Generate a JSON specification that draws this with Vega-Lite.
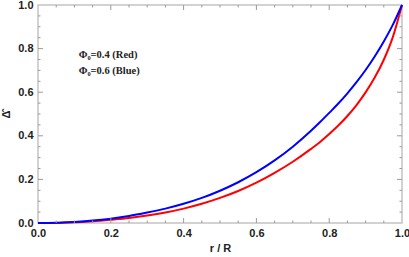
{
  "$schema": "https://vega.github.io/schema/vega-lite/v6.json",
  "width": 364,
  "height": 218,
  "autosize": "none",
  "padding": {"left": 38, "top": 5, "right": 7, "bottom": 34},
  "background": "white",
  "config": {
    "view": {"stroke": "#c4c4c4", "strokeWidth": 1.5},
    "axis": {
      "grid": false,
      "domain": false,
      "labelFont": "Liberation Sans",
      "labelFontWeight": "bold",
      "labelFontSize": 11,
      "labelColor": "#222222",
      "labelOverlap": false,
      "labelFlush": false,
      "titleFont": "Liberation Sans",
      "titleFontWeight": "bold",
      "titleFontSize": 11,
      "titleColor": "#222222"
    }
  },
  "datasets": {
    "curves": [
      {"r": 0.0, "delta": 0.0, "series": "red"},
      {"r": 0.05, "delta": 0.0005, "series": "red"},
      {"r": 0.1, "delta": 0.003, "series": "red"},
      {"r": 0.15, "delta": 0.008, "series": "red"},
      {"r": 0.2, "delta": 0.015, "series": "red"},
      {"r": 0.25, "delta": 0.023, "series": "red"},
      {"r": 0.3, "delta": 0.034, "series": "red"},
      {"r": 0.35, "delta": 0.048, "series": "red"},
      {"r": 0.4, "delta": 0.066, "series": "red"},
      {"r": 0.45, "delta": 0.088, "series": "red"},
      {"r": 0.5, "delta": 0.115, "series": "red"},
      {"r": 0.55, "delta": 0.147, "series": "red"},
      {"r": 0.6, "delta": 0.185, "series": "red"},
      {"r": 0.65, "delta": 0.23, "series": "red"},
      {"r": 0.7, "delta": 0.281, "series": "red"},
      {"r": 0.75, "delta": 0.34, "series": "red"},
      {"r": 0.775, "delta": 0.372, "series": "red"},
      {"r": 0.8, "delta": 0.408, "series": "red"},
      {"r": 0.825, "delta": 0.447, "series": "red"},
      {"r": 0.85, "delta": 0.491, "series": "red"},
      {"r": 0.875, "delta": 0.541, "series": "red"},
      {"r": 0.9, "delta": 0.599, "series": "red"},
      {"r": 0.925, "delta": 0.667, "series": "red"},
      {"r": 0.95, "delta": 0.749, "series": "red"},
      {"r": 0.975, "delta": 0.854, "series": "red"},
      {"r": 1.0, "delta": 1.0, "series": "red"},
      {"r": 0.0, "delta": 0.0, "series": "blue"},
      {"r": 0.05, "delta": 0.001, "series": "blue"},
      {"r": 0.1, "delta": 0.005, "series": "blue"},
      {"r": 0.15, "delta": 0.011, "series": "blue"},
      {"r": 0.2, "delta": 0.02, "series": "blue"},
      {"r": 0.25, "delta": 0.032, "series": "blue"},
      {"r": 0.3, "delta": 0.048, "series": "blue"},
      {"r": 0.35, "delta": 0.066, "series": "blue"},
      {"r": 0.4, "delta": 0.088, "series": "blue"},
      {"r": 0.45, "delta": 0.115, "series": "blue"},
      {"r": 0.5, "delta": 0.148, "series": "blue"},
      {"r": 0.55, "delta": 0.187, "series": "blue"},
      {"r": 0.6, "delta": 0.233, "series": "blue"},
      {"r": 0.65, "delta": 0.287, "series": "blue"},
      {"r": 0.7, "delta": 0.35, "series": "blue"},
      {"r": 0.75, "delta": 0.423, "series": "blue"},
      {"r": 0.775, "delta": 0.463, "series": "blue"},
      {"r": 0.8, "delta": 0.505, "series": "blue"},
      {"r": 0.825, "delta": 0.548, "series": "blue"},
      {"r": 0.85, "delta": 0.595, "series": "blue"},
      {"r": 0.875, "delta": 0.646, "series": "blue"},
      {"r": 0.9, "delta": 0.702, "series": "blue"},
      {"r": 0.925, "delta": 0.764, "series": "blue"},
      {"r": 0.95, "delta": 0.833, "series": "blue"},
      {"r": 0.975, "delta": 0.91, "series": "blue"},
      {"r": 1.0, "delta": 1.0, "series": "blue"}
    ],
    "notes": [
      {"r": 0.112, "delta": 0.771, "label": "Φ₀=0.4 (Red)"},
      {"r": 0.112, "delta": 0.697, "label": "Φ₀=0.6 (Blue)"}
    ],
    "major": [
      {"v": 0.2}, {"v": 0.4}, {"v": 0.6}, {"v": 0.8}
    ],
    "minor": [
      {"v": 0.05}, {"v": 0.1}, {"v": 0.15}, {"v": 0.25}, {"v": 0.3}, {"v": 0.35},
      {"v": 0.45}, {"v": 0.5}, {"v": 0.55}, {"v": 0.65}, {"v": 0.7}, {"v": 0.75},
      {"v": 0.85}, {"v": 0.9}, {"v": 0.95}
    ]
  },
  "layer": [
    {
      "data": {"name": "curves"},
      "mark": {"type": "line", "strokeWidth": 2, "interpolate": "monotone"},
      "encoding": {
        "x": {
          "field": "r", "type": "quantitative",
          "scale": {"domain": [0, 1], "nice": false, "zero": false},
          "axis": {
            "orient": "bottom",
            "title": "r / R",
            "titlePadding": 4,
            "values": [0, 0.2, 0.4, 0.6, 0.8, 1.0],
            "format": ".1f",
            "ticks": false,
            "labelPadding": 4
          }
        },
        "y": {
          "field": "delta", "type": "quantitative",
          "scale": {"domain": [0, 1], "nice": false, "zero": false},
          "axis": {
            "orient": "left",
            "title": "Δ̂",
            "titlePadding": 6,
            "values": [0, 0.2, 0.4, 0.6, 0.8, 1.0],
            "format": ".1f",
            "ticks": false,
            "labelPadding": 5
          }
        },
        "color": {
          "field": "series", "type": "nominal",
          "scale": {"domain": ["red", "blue"], "range": ["#ff0000", "#0000ff"]},
          "legend": null
        }
      }
    },
    {
      "data": {"name": "major"},
      "mark": {"type": "rule", "color": "#9a9a9a", "strokeWidth": 1},
      "encoding": {
        "x": {"field": "v", "type": "quantitative", "axis": null},
        "y": {"datum": 0, "type": "quantitative", "axis": null},
        "y2": {"datum": 0.023}
      }
    },
    {
      "data": {"name": "major"},
      "mark": {"type": "rule", "color": "#9a9a9a", "strokeWidth": 1},
      "encoding": {
        "x": {"field": "v", "type": "quantitative", "axis": null},
        "y": {"datum": 1, "type": "quantitative", "axis": null},
        "y2": {"datum": 0.977}
      }
    },
    {
      "data": {"name": "major"},
      "mark": {"type": "rule", "color": "#9a9a9a", "strokeWidth": 1},
      "encoding": {
        "y": {"field": "v", "type": "quantitative", "axis": null},
        "x": {"datum": 0, "type": "quantitative", "axis": null},
        "x2": {"datum": 0.0137}
      }
    },
    {
      "data": {"name": "major"},
      "mark": {"type": "rule", "color": "#9a9a9a", "strokeWidth": 1},
      "encoding": {
        "y": {"field": "v", "type": "quantitative", "axis": null},
        "x": {"datum": 1, "type": "quantitative", "axis": null},
        "x2": {"datum": 0.9863}
      }
    },
    {
      "data": {"name": "minor"},
      "mark": {"type": "rule", "color": "#9a9a9a", "strokeWidth": 1},
      "encoding": {
        "x": {"field": "v", "type": "quantitative", "axis": null},
        "y": {"datum": 0, "type": "quantitative", "axis": null},
        "y2": {"datum": 0.0115}
      }
    },
    {
      "data": {"name": "minor"},
      "mark": {"type": "rule", "color": "#9a9a9a", "strokeWidth": 1},
      "encoding": {
        "x": {"field": "v", "type": "quantitative", "axis": null},
        "y": {"datum": 1, "type": "quantitative", "axis": null},
        "y2": {"datum": 0.9885}
      }
    },
    {
      "data": {"name": "minor"},
      "mark": {"type": "rule", "color": "#9a9a9a", "strokeWidth": 1},
      "encoding": {
        "y": {"field": "v", "type": "quantitative", "axis": null},
        "x": {"datum": 0, "type": "quantitative", "axis": null},
        "x2": {"datum": 0.0069}
      }
    },
    {
      "data": {"name": "minor"},
      "mark": {"type": "rule", "color": "#9a9a9a", "strokeWidth": 1},
      "encoding": {
        "y": {"field": "v", "type": "quantitative", "axis": null},
        "x": {"datum": 1, "type": "quantitative", "axis": null},
        "x2": {"datum": 0.9931}
      }
    },
    {
      "data": {"name": "notes"},
      "mark": {"type": "text", "align": "left", "baseline": "middle", "font": "Liberation Serif", "fontWeight": "bold", "fontSize": 10.5, "color": "#222222"},
      "encoding": {
        "x": {"field": "r", "type": "quantitative", "axis": null},
        "y": {"field": "delta", "type": "quantitative", "axis": null},
        "text": {"field": "label"}
      }
    }
  ],
  "resolve": {"axis": {"x": "independent", "y": "independent"}}
}
